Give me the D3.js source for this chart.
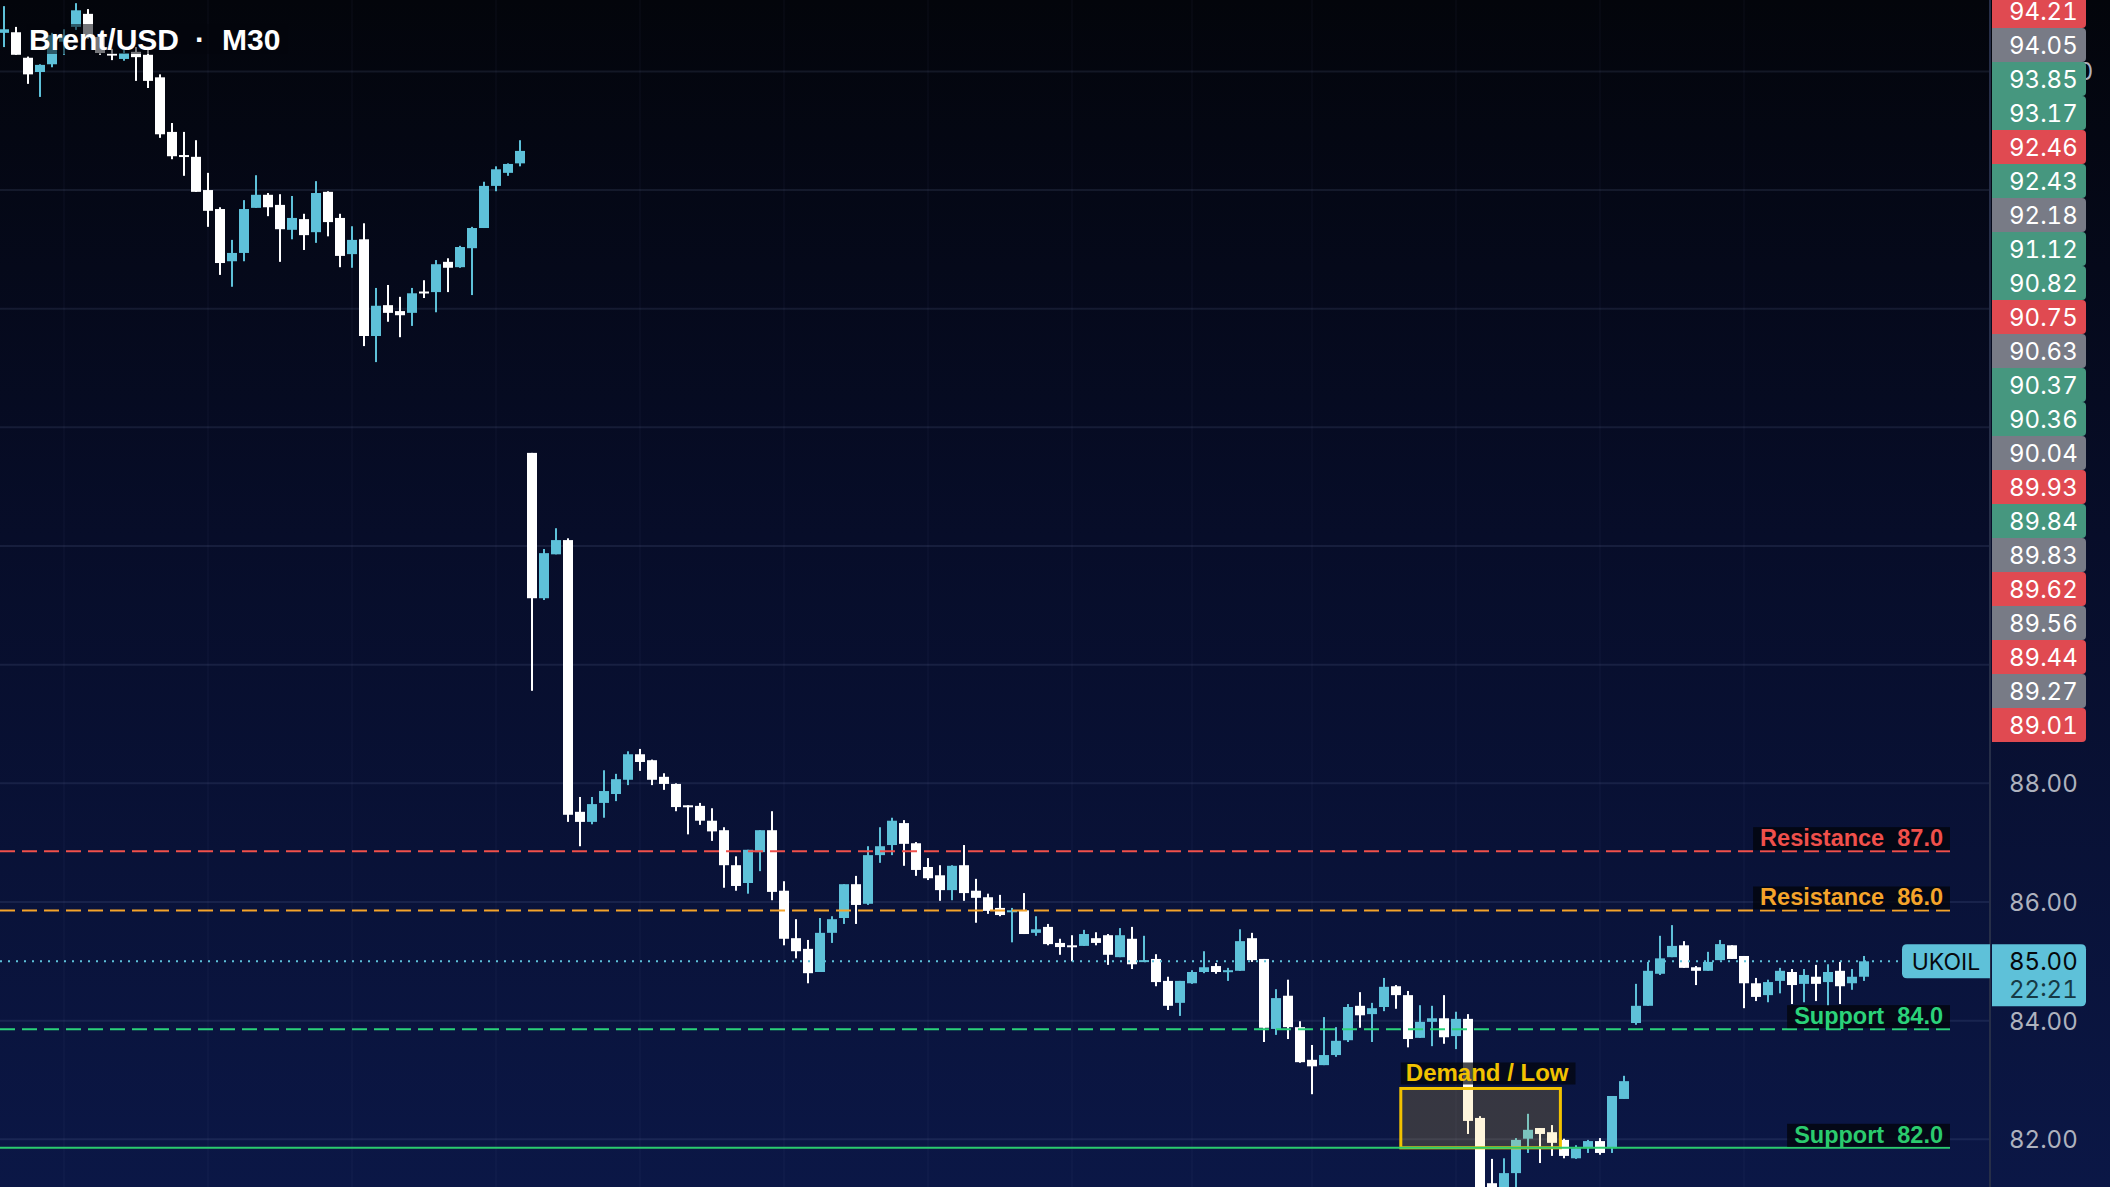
<!DOCTYPE html>
<html><head><meta charset="utf-8">
<script src="https://cdn.jsdelivr.net/npm/d3@7"></script>
<style>html,body{margin:0;padding:0;background:#03050a;overflow:hidden}
.num{font-feature-settings:"tnum" 1;font-variant-numeric:tabular-nums}</style>
</head><body>
<svg id="chart" width="2110" height="1187" xmlns="http://www.w3.org/2000/svg"></svg>
<script>
// ---------------- DATA ----------------
const symbolTitle = "Brent/USD";
const timeframe = "M30";
const tickerName = "UKOIL";
const lastPrice = 85.00;
const countdown = "22:21";

const opens = [100.65,100.66,100.23,99.99,100.12,100.50,100.75,100.97,100.58,100.30,100.21,100.33,100.28,99.90,98.98,98.59,98.56,98.00,97.68,96.80,96.94,97.70,97.92,97.75,97.33,97.51,97.29,97.97,97.53,96.92,97.17,95.54,96.06,95.96,95.93,96.29,96.28,96.79,96.70,97.02,97.36,98.07,98.29,98.45,
93.57,91.12,91.86,92.10,87.52,87.35,87.67,87.82,88.06,88.49,88.39,88.11,87.99,87.63,87.62,87.37,87.21,86.62,86.32,86.84,87.21,86.19,85.39,85.21,84.82,85.48,85.73,86.30,85.97,86.79,86.96,87.33,86.99,86.59,86.45,86.20,86.62,86.19,86.08,85.90,85.83,85.86,85.48,85.58,85.31,85.27,85.26,85.39,85.44,85.07,85.38,84.99,85.04,84.67,84.30,84.63,84.82,84.92,84.82,84.84,85.39,85.04,83.86,84.42,83.89,83.34,83.25,83.42,83.67,84.25,84.11,84.23,84.58,84.43,83.71,83.98,84.04,83.74,84.03,82.36,81.26,81.10,81.43,82.01,82.19,82.12,81.99,81.68,81.85,81.97,81.85,82.68,
83.96,84.25,84.79,85.07,85.27,84.90,84.84,85.02,85.27,85.09,84.63,84.43,84.67,84.82,84.62,84.74,84.65,84.84,84.63,84.74];
const highs = [101.10,100.75,100.25,100.12,100.65,100.71,101.15,101.05,100.60,100.38,100.36,100.41,100.36,99.95,99.13,98.98,98.84,98.29,97.71,97.16,97.83,98.25,97.95,97.93,97.90,97.60,98.15,97.98,97.60,97.39,97.44,96.35,96.40,96.20,96.35,96.48,96.82,96.85,97.06,97.38,98.14,98.40,98.45,98.84,
93.57,91.95,92.30,92.13,87.77,87.77,88.22,88.16,88.54,88.58,88.40,88.17,88.00,87.63,87.67,87.58,87.26,86.77,86.88,87.21,87.53,86.35,85.71,85.36,85.73,85.76,86.30,86.44,86.94,87.26,87.42,87.38,87.01,86.74,86.62,86.62,86.96,86.39,86.14,86.12,85.90,86.15,85.76,85.63,85.38,85.44,85.53,85.49,85.46,85.56,85.58,85.43,85.12,84.74,84.67,84.85,85.17,84.97,84.89,85.54,85.48,85.04,84.53,84.69,83.99,83.59,84.06,83.89,84.28,84.48,84.30,84.72,84.60,84.50,84.26,84.25,84.43,84.15,84.11,82.39,81.67,81.68,82.02,82.43,82.19,82.24,82.01,81.90,81.99,82.02,82.73,83.07,
84.62,84.99,85.43,85.61,85.34,84.92,85.16,85.36,85.27,85.09,84.72,84.69,84.89,84.87,84.87,84.94,84.95,84.99,84.87,85.09];
const lows = [100.41,100.28,99.79,99.57,100.07,100.28,100.70,100.55,100.28,100.19,100.18,99.84,99.72,98.88,98.52,98.24,97.97,97.38,96.57,96.37,96.80,97.70,97.56,96.79,97.17,96.99,97.11,97.22,96.70,96.69,95.37,95.10,95.78,95.52,95.71,96.18,95.94,96.28,96.69,96.23,97.36,97.98,98.24,98.40,
89.56,91.09,91.86,87.35,86.94,87.31,87.42,87.70,87.97,88.21,87.97,87.89,87.53,87.14,87.30,87.03,86.24,86.19,86.14,86.52,86.03,85.27,85.05,84.63,84.82,85.31,85.63,85.63,85.95,86.66,86.79,86.61,86.44,86.37,86.02,86.03,86.02,85.65,85.80,85.76,85.32,85.46,85.43,85.27,85.11,85.00,85.26,85.27,84.94,85.07,84.87,84.99,84.58,84.18,84.08,84.62,84.80,84.79,84.67,84.84,84.99,83.64,83.76,83.69,83.29,82.76,83.25,83.39,83.64,83.88,83.64,84.16,84.20,83.55,83.71,83.57,83.61,83.52,82.09,81.00,81.00,81.00,81.15,81.77,81.60,81.72,81.68,81.67,81.77,81.74,81.77,82.68,
83.93,84.25,84.77,85.07,84.89,84.60,84.84,85.02,85.04,84.21,84.33,84.31,84.46,84.28,84.31,84.33,84.25,84.28,84.52,84.67];
const closes = [100.71,100.28,99.95,100.11,100.61,100.61,101.03,100.58,100.31,100.29,100.31,100.24,99.84,98.94,98.57,98.57,97.97,97.65,96.77,96.94,97.68,97.92,97.71,97.34,97.53,97.24,97.95,97.46,96.89,97.16,95.54,96.05,95.93,95.89,96.26,96.27,96.75,96.69,97.04,97.36,98.07,98.35,98.44,98.66,
91.12,91.88,92.10,87.47,87.35,87.65,87.87,88.07,88.49,88.36,88.06,87.99,87.60,87.60,87.37,87.19,86.62,86.27,86.88,87.21,86.17,85.38,85.17,84.80,85.48,85.71,86.30,85.95,86.79,86.94,87.37,86.98,86.54,86.40,86.20,86.61,86.15,86.07,85.85,85.78,85.86,85.46,85.54,85.29,85.24,85.24,85.46,85.31,85.11,85.44,84.95,85.02,84.65,84.25,84.67,84.82,84.90,84.82,84.85,85.34,85.02,83.88,84.38,83.89,83.30,83.23,83.42,83.66,84.23,84.09,84.21,84.57,84.43,83.69,83.98,84.04,83.72,84.03,82.31,81.12,81.10,81.43,81.99,82.16,82.09,81.94,81.72,81.85,81.97,81.77,82.73,82.98,
84.25,84.84,85.05,85.26,84.89,84.84,84.99,85.29,85.04,84.63,84.40,84.65,84.84,84.60,84.77,84.62,84.82,84.58,84.74,85.00];

// price axis ticks (90–98 sit fully under the tag stack, only 100.00 peeks out)
const axisTicks = [82, 84, 86, 88, 100];
const gridTicks = [82, 84, 86, 88, 90, 92, 94, 96, 98, 100];
// faint time grid (candle index)
const timeGrid = [5, 17, 29, 41, 53, 65, 77, 89, 99, 109, 121, 133, 145];

// horizontal levels
const levelNames = ["Resistance", "Resistance", "Support", "Support"];
const levelValues = [87.0, 86.0, 84.0, 82.0];

// demand zone
const zoneName = "Demand / Low";
const zoneFrom = 116.4, zoneTo = 129.7;
const zoneLow = 82.0, zoneHigh = 83.0;

// stacked price tags on the axis
const tagValues = ["94.21","94.05","93.85","93.17","92.46","92.43","92.18","91.12","90.82","90.75","90.63","90.37","90.36","90.04","89.93","89.84","89.83","89.62","89.56","89.44","89.27","89.01"];
const tagKinds  = ["down","flat","up","up","down","up","flat","up","up","down","flat","up","up","flat","down","up","flat","down","flat","down","flat","down"];

// ---------------- STYLE ----------------
const W = 2110, H = 1187;
const UP = "#5EC1D9", DOWN = "#FFFFFF";
const levelStyles = [
  {color: "#F0504B", dash: "15,7"},
  {color: "#F5A42A", dash: "15,7"},
  {color: "#2BD27A", dash: "15,7"},
  {color: "#2BCB6E", dash: null}
];
const tagColors = {down: "#E04A51", flat: "#787B86", up: "#46977F"};
const levelOffset = 8.5;
const NUM_FONT = "Inter, 'Noto Sans', sans-serif";
const LBL_FONT = "'Liberation Sans', Arial, sans-serif";

const svg = d3.select("#chart");
const defs = svg.append("defs");
const grad = defs.append("linearGradient").attr("id","bg").attr("x1",0).attr("y1",0).attr("x2",0).attr("y2",1);
grad.append("stop").attr("offset","0%").attr("stop-color","#03050b");
grad.append("stop").attr("offset","45%").attr("stop-color","#070d29");
grad.append("stop").attr("offset","100%").attr("stop-color","#0b1746");
svg.append("rect").attr("width",W).attr("height",H).attr("fill","url(#bg)");

const x = d3.scaleLinear().domain([0, opens.length - 1]).range([4, 1864]);
const y = d3.scaleLinear().domain([82, 100]).range([1139.3, 71.4]);
const axisX = 1990;

// grid
const grid = svg.append("g");
grid.selectAll("line.h").data(gridTicks).join("line")
  .attr("x1",0).attr("x2",axisX).attr("y1",d=>y(d)).attr("y2",d=>y(d))
  .attr("stroke","#8f9bd0").attr("stroke-opacity",0.12).attr("stroke-width",2);
grid.selectAll("line.v").data(timeGrid).join("line")
  .attr("x1",d=>x(d)).attr("x2",d=>x(d)).attr("y1",0).attr("y2",H)
  .attr("stroke","#8f9bd0").attr("stroke-opacity",0.035).attr("stroke-width",2);

// candles
const candles = d3.range(opens.length).map(i => ({i, o: opens[i], h: highs[i], l: lows[i], c: closes[i]}));
const cg = svg.append("g");
const cs = cg.selectAll("g").data(candles).join("g")
  .attr("fill", d => d.c >= d.o ? UP : DOWN);
cs.append("rect").attr("x", d => x(d.i) - 1).attr("width", 2)
  .attr("y", d => y(d.h)).attr("height", d => Math.max(1, y(d.l) - y(d.h)));
cs.append("rect").attr("x", d => x(d.i) - 5).attr("width", 10)
  .attr("y", d => y(Math.max(d.o, d.c)))
  .attr("height", d => Math.max(2, Math.abs(y(d.o) - y(d.c))));

// demand zone (over candles)
const zy1 = y(zoneHigh) + levelOffset, zy2 = y(zoneLow) + levelOffset;
svg.append("rect").attr("x", x(zoneFrom)).attr("y", zy1)
  .attr("width", x(zoneTo) - x(zoneFrom)).attr("height", zy2 - zy1)
  .attr("fill", "#FFCD3D").attr("fill-opacity", 0.18)
  .attr("stroke", "#F2C200").attr("stroke-width", 3);
const zl = svg.append("g");
const zlBg = zl.append("rect");
const zlText = zl.append("text").attr("x", x(zoneFrom) + 5).attr("y", zy1 - 7)
  .attr("font-family", LBL_FONT).attr("font-weight", "bold").attr("font-size", 24)
  .attr("fill", "#F2C200").text(zoneName);
const zw = zlText.node().getComputedTextLength();
zlBg.attr("x", x(zoneFrom)).attr("y", zy1 - 26).attr("width", zw + 12).attr("height", 22)
  .attr("fill", "#03050c").attr("fill-opacity", 0.72);

// level lines + labels
const lvEnd = 1950;
levelValues.forEach((v, k) => {
  const st = levelStyles[k];
  const ly = y(v) + levelOffset;
  const ln = svg.append("line").attr("x1", 0).attr("x2", lvEnd).attr("y1", ly).attr("y2", ly)
    .attr("stroke", st.color).attr("stroke-width", 2);
  if (st.dash) ln.attr("stroke-dasharray", st.dash);
  const g = svg.append("g");
  const bg = g.append("rect");
  const t = g.append("text").attr("x", lvEnd - 7).attr("y", ly - 5).attr("text-anchor", "end")
    .attr("font-family", LBL_FONT).attr("font-weight", "bold").attr("font-size", 23.5)
    .attr("fill", st.color)
    .text(levelNames[k] + "\u00A0\u00A0" + v.toFixed(1));
  const tw = t.node().getComputedTextLength();
  bg.attr("x", lvEnd - 7 - tw - 7).attr("y", ly - 24).attr("width", tw + 14).attr("height", 23)
    .attr("fill", "#03050c").attr("fill-opacity", 0.8);
});

// current price dotted line
const py = y(lastPrice);
svg.append("line").attr("x1", 0).attr("x2", 1902).attr("y1", py).attr("y2", py)
  .attr("stroke", UP).attr("stroke-width", 2).attr("stroke-dasharray", "2,6");

// title
const tg = svg.append("g");
tg.append("rect").attr("x", 26).attr("y", 24).attr("width", 262).attr("height", 30)
  .attr("fill", "#03050c").attr("fill-opacity", 0.55);
const tAttrs = s => s.attr("font-family", LBL_FONT).attr("font-weight", "bold").attr("font-size", 30).attr("fill", "#ffffff");
tg.append("text").attr("x", 29).attr("y", 50).text(symbolTitle).call(tAttrs);
tg.append("text").attr("x", 200).attr("y", 50).attr("text-anchor", "middle").text("·").call(tAttrs);
tg.append("text").attr("x", 222).attr("y", 50).text(timeframe).call(tAttrs);

// axis
svg.append("line").attr("x1", axisX).attr("x2", axisX).attr("y1", 0).attr("y2", H)
  .attr("stroke", "#262e48").attr("stroke-width", 2);
svg.append("g").selectAll("text").data(axisTicks).join("text")
  .attr("class", "num")
  .attr("x", 2009).attr("y", d => y(d) + 9)
  .attr("font-family", NUM_FONT).attr("font-size", 24).attr("fill", "#AEB2BE")
  .text(d => d3.format(".2f")(d));

// helper: rect path with rounded corners on one side
function sidePath(x0, y0, w, h, r, side) {
  if (side === "right")
    return `M${x0},${y0}H${x0+w-r}Q${x0+w},${y0} ${x0+w},${y0+r}V${y0+h-r}Q${x0+w},${y0+h} ${x0+w-r},${y0+h}H${x0}Z`;
  return `M${x0+w},${y0}H${x0+r}Q${x0},${y0} ${x0},${y0+r}V${y0+h-r}Q${x0},${y0+h} ${x0+r},${y0+h}H${x0+w}Z`;
}

// stacked tags
const tagH = 34, tagTop = -6, tagX = 1992, tagW = 94;
const tgs = svg.append("g").selectAll("g").data(tagValues).join("g");
tgs.append("path").attr("d", (d, i) => sidePath(tagX, tagTop + i * tagH, tagW, tagH, 4, "right"))
  .attr("fill", (d, i) => tagColors[tagKinds[i]]);
tgs.append("text").attr("class", "num").attr("x", 2009).attr("y", (d, i) => tagTop + i * tagH + 25.5)
  .attr("font-family", NUM_FONT).attr("font-size", 24).attr("fill", "#ffffff").text(d => d);

// ticker tag + price tag
svg.append("path").attr("d", sidePath(1902, py - 17, 88, 34, 5, "left")).attr("fill", UP);
svg.append("text").attr("x", 1946).attr("y", py + 9).attr("text-anchor", "middle")
  .attr("font-family", NUM_FONT).attr("font-size", 23).attr("fill", "#06090f").text(tickerName);
svg.append("path").attr("d", sidePath(1992, py - 17, 94, 62, 5, "right")).attr("fill", UP);
svg.append("text").attr("class", "num").attr("x", 2009).attr("y", py + 9)
  .attr("font-family", NUM_FONT).attr("font-size", 24).attr("fill", "#05080c").text(lastPrice.toFixed(2));
svg.append("text").attr("class", "num").attr("x", 2009).attr("y", py + 37)
  .attr("font-family", NUM_FONT).attr("font-size", 24).attr("fill", "#163a45").text(countdown);
</script>
</body></html>
